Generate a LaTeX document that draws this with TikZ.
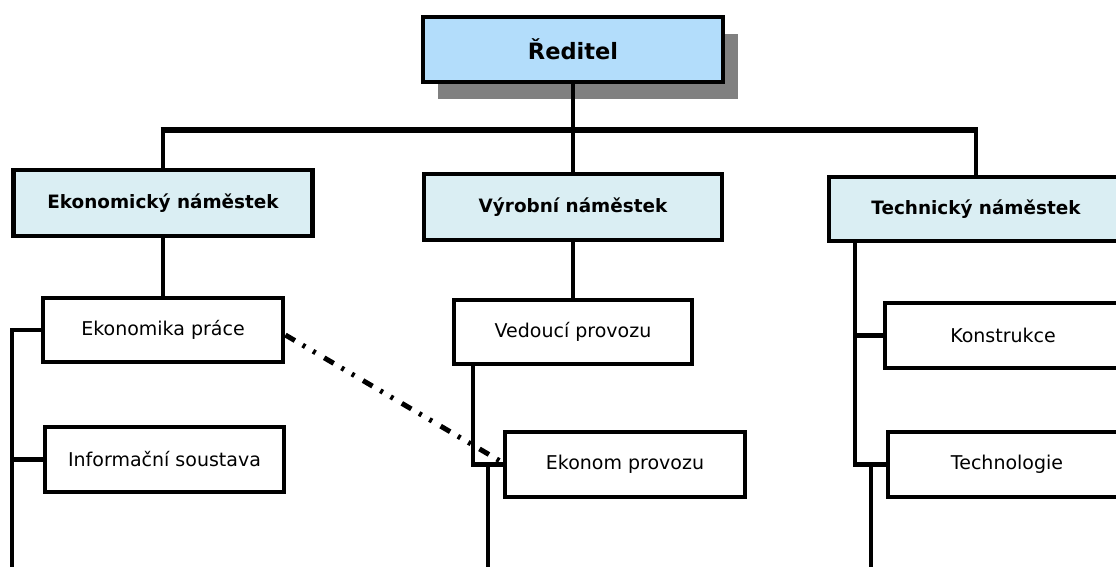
\documentclass[tikz,border=0pt]{standalone}
\usepackage{fontspec}
\setmainfont{DejaVu Sans}
\usetikzlibrary{shadows}
\definecolor{headfill}{HTML}{B3DDFB}
\definecolor{deputyfill}{HTML}{DAEEF3}
\definecolor{shadowgray}{HTML}{808080}

\begin{document}
\begin{tikzpicture}[x=1pt,y=-1pt,
  box/.style={draw=black, line width=4.8pt, rectangle, inner sep=0pt, align=center},
  headbox/.style={box, fill=headfill, font=\fontsize{22.5}{26}\selectfont\bfseries,
    drop shadow={shadow xshift=15pt, shadow yshift=-17pt, fill=shadowgray, opacity=1}},
  deputybox/.style={box, fill=deputyfill, font=\fontsize{18.4}{22}\selectfont\bfseries},
  unitbox/.style={box, fill=white, font=\fontsize{19}{23}\selectfont},
  link/.style={line width=4.6pt},
  bus/.style={line width=6.5pt},
  dotlink/.style={line width=5pt, dash pattern=on 11pt off 9pt on 3pt off 9pt on 3pt off 10pt}]

\useasboundingbox (0,0) rectangle (1116,567);
\clip (0,0) rectangle (1116,567);

% director
\node[headbox, minimum width=300pt, minimum height=65pt] (dir) at (573,49.5) {Ředitel};

% deputies
\node[deputybox, minimum width=299pt, minimum height=66pt] (eko)  at (163,203) {Ekonomický náměstek};
\node[deputybox, minimum width=298pt, minimum height=66pt] (vyr)  at (573,207) {Výrobní náměstek};
\node[deputybox, minimum width=294pt, minimum height=64pt] (tech) at (976,209) {Technický náměstek};

% departments
\node[unitbox, minimum width=240pt, minimum height=64pt] (ekprace) at (163,330)   {Ekonomika práce};
\node[unitbox, minimum width=239pt, minimum height=65pt] (info)    at (164.5,459.5) {Informační soustava};
\node[unitbox, minimum width=238pt, minimum height=64pt] (vedouci) at (573,332)   {Vedoucí provozu};
\node[unitbox, minimum width=240pt, minimum height=65pt] (ekonom)  at (625,464.5) {Ekonom provozu};
\node[unitbox, minimum width=236pt, minimum height=65pt] (konstr)  at (1003,335.5) {Konstrukce};
\node[unitbox, minimum width=238pt, minimum height=65pt] (techno)  at (1007,464.5) {Technologie};

% helper coordinates
\coordinate (busy)    at (0,130);
\coordinate (railL)   at (12,567);
\coordinate (midbend) at (473,0);
\coordinate (midtail) at (488,567);
\coordinate (rrail)   at (855,0);
\coordinate (rtail)   at (871,567);

% top level bus
\draw[link] (dir.south) -- (vyr.north);
\draw[link] (eko.north) -- (eko.north |- busy) -- (tech.north |- busy) -- (tech.north);
\draw[bus] ([xshift=-2.3pt]eko.north |- busy) -- ([xshift=2.3pt]tech.north |- busy);

% economic branch
\draw[link] (eko.south) -- (ekprace.north);
\draw[link] (ekprace.west) -| (railL);
\draw[link] (info.west) -- (info.west -| railL);

% production branch
\draw[link] (vyr.south) -- (vedouci.north);
\draw[link] (vedouci.south -| midbend) |- (ekonom.west);
\draw[link] (ekonom.west -| midtail) -- (midtail);

% technical branch
\draw[link] (tech.south -| rrail) |- (techno.west);
\draw[link] (konstr.west) -- (konstr.west -| rrail);
\draw[link] (techno.west -| rtail) -- (rtail);

% methodical link
\draw[dotlink] ([yshift=-5pt]ekprace.east) -- ([yshift=2pt]ekonom.west);
\end{tikzpicture}
\end{document}
